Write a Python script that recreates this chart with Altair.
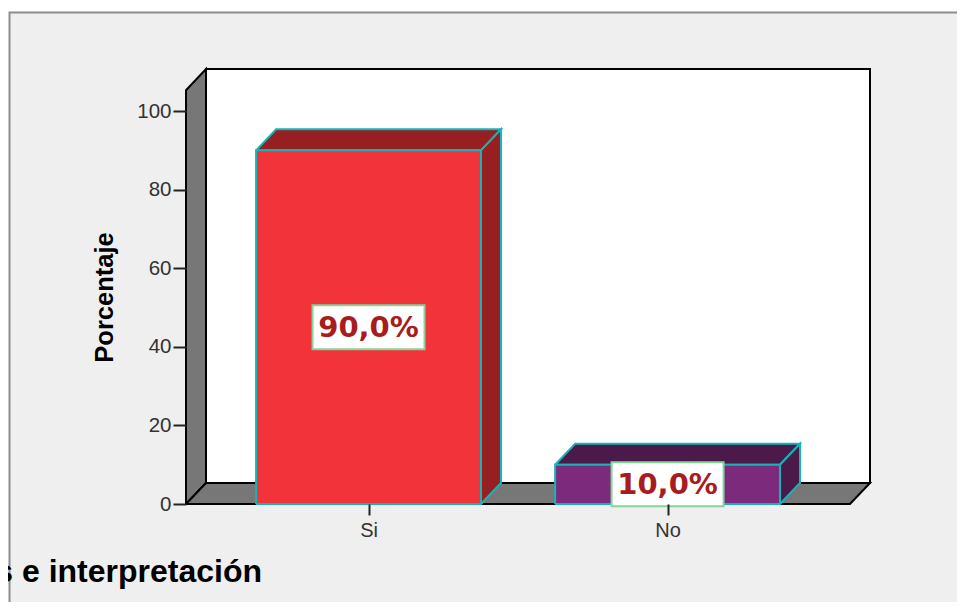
import altair as alt
import pandas as pd

categories = ["Si", "No"]
percentages = [90.0, 10.0]
value_labels = ["90,0%", "10,0%"]
front_colors = ["#f2333a", "#7c2a7c"]
shade_colors = ["#961f22", "#4b1a4b"]

WIDTH, HEIGHT = 684, 435
X_MIN, X_MAX = 0.3896, 2.677
Y_TOP = 110.7
DX, DY = 0.0669, 5.34      # depth of the 3D projection in data units
HALF = 0.376               # half a bar's width in data units
FRAME_TOP = 105.3
EDGE = "#16b4b8"

x_scale = alt.Scale(domain=[X_MIN, X_MAX], nice=False, zero=False)
y_scale = alt.Scale(domain=[0, Y_TOP], nice=False)
label_expr = "datum.value == 1 ? '%s' : '%s'" % (categories[0], categories[1])
x_axis = alt.Axis(
    values=[1, 2], labelExpr=label_expr, domain=False, grid=False, zindex=1,
    tickSize=11, tickColor="#222222", tickWidth=2, labelFontSize=20,
    labelFont="Liberation Sans", labelColor="#333333", labelPadding=5, title=None,
)
y_axis = alt.Axis(
    values=[0, 20, 40, 60, 80, 100], domain=False, grid=False, zindex=1,
    tickSize=13, tickColor="#222222", tickWidth=2, labelFontSize=20.5,
    labelFont="Liberation Sans", labelColor="#333333", labelPadding=2,
    title="Porcentaje", titleFont="Liberation Sans", titleFontSize=25.5,
    titleFontWeight="bold", titleColor="#000000", titleX=-69, titleY=228,
)


def enc_x(field):
    return alt.X(field, scale=x_scale, axis=x_axis)


def enc_y(field):
    return alt.Y(field, scale=y_scale, axis=y_axis)


def poly(points):
    return pd.DataFrame(
        [{"i": i, "px": p[0], "py": p[1]} for i, p in enumerate(points + points[:1])]
    )


def face(points, fill, stroke, sw=2):
    return (
        alt.Chart(poly(points))
        .mark_line(fill=fill, stroke=stroke, strokeWidth=sw, strokeJoin="miter", clip=False)
        .encode(x=enc_x("px:Q"), y=enc_y("py:Q"), order="i:Q")
    )


layers = []

# light panel behind everything
layers.append(
    alt.Chart(pd.DataFrame({"a": [0]}))
    .mark_rect(fill="#efefef", stroke="#8c8c8c", strokeWidth=2, clip=False)
    .encode(x=alt.value(-176.5), x2=alt.value(800), y=alt.value(-56.5), y2=alt.value(560))
)

# frame: back wall, left wall, floor
x_front_right = X_MAX - DX
layers.append(face([(X_MIN + DX, DY), (X_MAX, DY), (X_MAX, Y_TOP), (X_MIN + DX, Y_TOP)], "#ffffff", "#000000"))
layers.append(face([(X_MIN, 0), (X_MIN + DX, DY), (X_MIN + DX, Y_TOP), (X_MIN, FRAME_TOP)], "#777777", "#000000"))
layers.append(face([(X_MIN, 0), (X_MIN + DX, DY), (X_MAX, DY), (x_front_right, 0)], "#777777", "#000000"))

# bars
for k, v in enumerate(percentages):
    c = k + 1
    l, r = c - HALF, c + HALF
    layers.append(face([(l, v), (l + DX, v + DY), (r + DX, v + DY), (r, v)], shade_colors[k], EDGE))
    layers.append(face([(r, 0), (r + DX, DY), (r + DX, v + DY), (r, v)], shade_colors[k], EDGE))
    layers.append(face([(l, 0), (r, 0), (r, v), (l, v)], front_colors[k], EDGE))

# value labels
label_df = pd.DataFrame(
    {"pos": [1, 2], "mid": [p / 2 for p in percentages], "label": value_labels}
)
layers.append(
    alt.Chart(label_df)
    .mark_rect(width=112, height=44, fill="#ffffff", stroke="#86d49a", strokeWidth=2, clip=False)
    .encode(x=enc_x("pos:Q"), y=enc_y("mid:Q"))
)
layers.append(
    alt.Chart(label_df)
    .mark_text(font="DejaVu Sans", fontWeight="bold", fontSize=29, color="#a81c20", baseline="middle", dy=1)
    .encode(x=enc_x("pos:Q"), y=enc_y("mid:Q"), text="label:N")
)

# clipped heading below the chart
layers.append(
    alt.Chart(pd.DataFrame({"t": ["Análisis e interpretación"]}))
    .mark_text(font="Liberation Sans", fontWeight="bold", fontSize=32, color="#000000", align="right", baseline="alphabetic")
    .encode(x=alt.value(76), y=alt.value(513), text="t:N")
)

chart = (
    alt.layer(*layers)
    .properties(
        width=WIDTH,
        height=HEIGHT,
        autosize=alt.AutoSizeParams(type="none"),
        padding={"left": 178, "top": 61, "right": 87, "bottom": 98},
        background="#ffffff",
    )
    .configure_view(stroke=None)
)

chart.save("out.html", embed_options={"renderer": "svg", "actions": False})
